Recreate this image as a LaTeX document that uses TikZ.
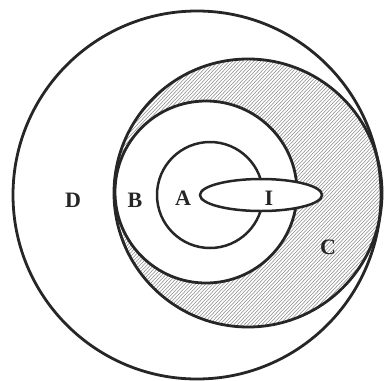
\documentclass[tikz,border=0pt]{standalone}
\usepackage{fontspec}
\setmainfont{Liberation Serif}
\begin{document}
\begin{tikzpicture}[x=1pt,y=-1pt,
  ring/.style={draw=black!85, line width=2.8pt},
  lab/.style={font=\fontsize{22}{22}\selectfont\bfseries, text=black!85, inner sep=0pt},
  hatch/.style={draw=black!45, line width=0.55pt}]
\useasboundingbox (0,0) rectangle (387,380);
% hatched region: inside C, outside B
\begin{scope}[even odd rule]
  \clip (248,193) circle (134pt) (206,192) circle (91pt);
  \foreach \i in {-300,-296.5,...,700}
    \draw[hatch] (\i,400) -- (\i+400,-20);
\end{scope}
\draw[ring] (197,195) circle (184pt);
\draw[ring] (248,193) circle (134pt);
\draw[ring] (206,192) circle (91pt);
\draw[ring, line width=2.5pt] (210,195) circle (53pt);
\draw[ring, line width=2.5pt, fill=white] (261,195) ellipse (61pt and 16pt);
\node[lab] (D) at (73,200) {D};
\node[lab] (B) at (135,200) {B};
\node[lab] (A) at (183,198) {A};
\node[lab] (I) at (269,198) {I};
\node[lab] (C) at (328,247) {C};
\end{tikzpicture}
\end{document}
